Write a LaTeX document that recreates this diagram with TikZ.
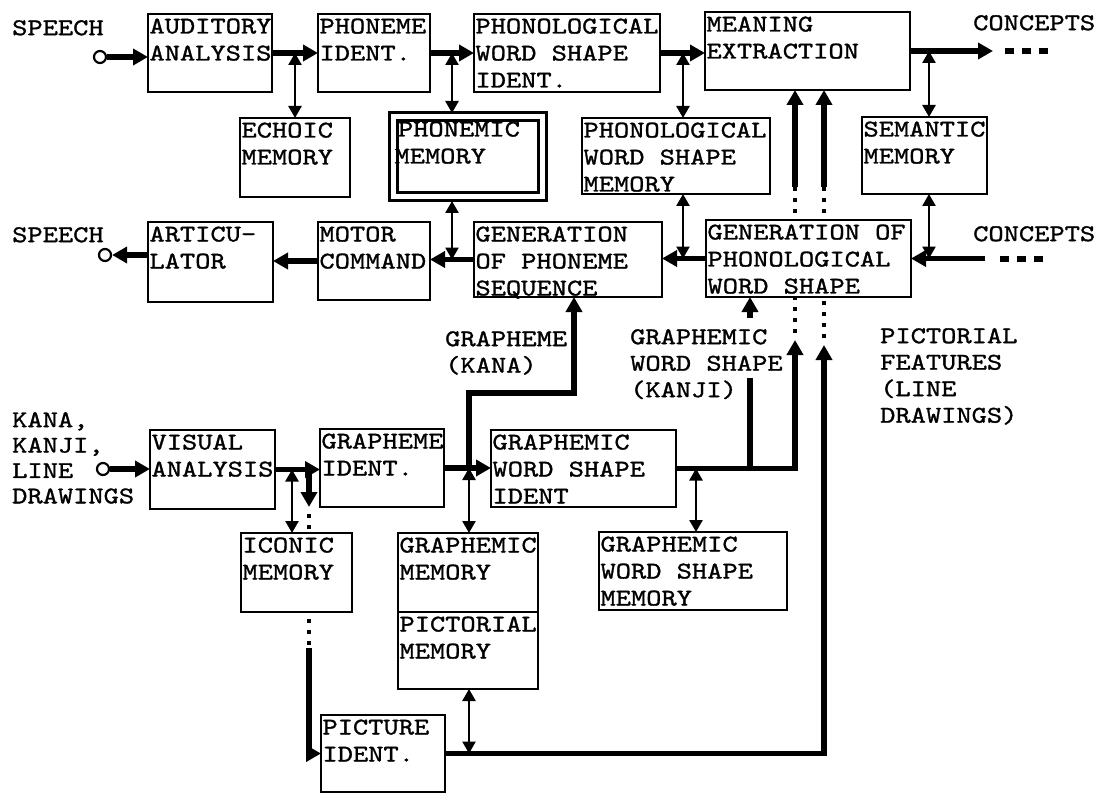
\documentclass[tikz,border=0pt]{standalone}
\usepackage{fontspec}
\usetikzlibrary{arrows.meta,calc}
\newfontfamily\typed[FakeStretch=1.21,FakeBold=1.2]{lmmono10-regular.otf}

\begin{document}
\begin{tikzpicture}[x=1pt, y=-1pt,
  blk/.style 2 args={draw, line width=2.5pt, inner sep=0pt, outer sep=0pt, anchor=north west,
    minimum width=#1, minimum height=#2, font=\typed\fontsize{24}{27}\selectfont,
    execute at begin node={\begin{minipage}[c][#2][t]{#1}\raggedright\leftskip=1.5pt\rule{0pt}{19.5pt}},
    execute at end node={\end{minipage}}},
  lab/.style={anchor=north west, inner sep=0pt, align=left, font=\typed\fontsize{24}{26.5}\selectfont},
  flow/.style={line width=5.5pt, -{Triangle[length=15pt,width=16pt]}},
  trunk/.style={line width=5.5pt},
  link/.style={line width=2.5pt, {Triangle[length=12pt,width=13pt]}-{Triangle[length=12pt,width=13pt]}},
  dotln/.style={line width=4.5pt, dash pattern=on 4pt off 7pt, dash phase=4pt},
  tail/.style={line width=6pt, dash pattern=on 9pt off 8pt},
  port/.style={circle, draw, line width=2.2pt, minimum size=12pt, inner sep=0pt, fill=white}]
\useasboundingbox (0,0) rectangle (1099,794);

% auditory side
\node[blk={124pt}{78pt}] (aud) at (148,14) {AUDITORY\\ANALYSIS};
\node[blk={112pt}{78pt}] (phi) at (318,14) {PHONEME\\IDENT.};
\node[blk={186pt}{78pt}] (pwsi) at (474,14) {PHONOLOGICAL\\WORD SHAPE\\IDENT.};
\node[blk={205pt}{78pt}] (mean) at (705,12) {MEANING\\EXTRACTION};
\node[blk={110pt}{79pt}] (echo) at (240,118) {ECHOIC\\MEMORY};
\node[blk={149pt}{80pt}, double, double distance=5pt, line width=3pt, outer sep=4pt] (phm) at (389,113) {\leftskip=5pt PHONEMIC\\MEMORY};
\node[blk={188pt}{76pt}] (pwsm) at (582,118) {PHONOLOGICAL\\WORD SHAPE\\MEMORY};
\node[blk={125pt}{77pt}] (sem) at (862,117) {SEMANTIC\\MEMORY};
\node[blk={125pt}{80pt}] (art) at (148,222) {ARTICU-\\LATOR};
\node[blk={112pt}{78pt}] (mot) at (318,222) {MOTOR\\COMMAND};
\node[blk={188pt}{75pt}] (gps) at (474,222) {GENERATION\\OF PHONEME\\SEQUENCE};
\node[blk={205pt}{77pt}] (gpws) at (706,220) {GENERATION OF\\PHONOLOGICAL\\WORD SHAPE};

% visual side
\node[blk={125pt}{79pt}] (vis) at (150,430) {VISUAL\\ANALYSIS};
\node[blk={124pt}{78pt}] (gi) at (320,429) {GRAPHEME\\IDENT.};
\node[blk={185pt}{77pt}] (gwsi) at (491,430) {GRAPHEMIC\\WORD SHAPE\\IDENT};
\node[blk={111pt}{79pt}] (ico) at (241,533) {ICONIC\\MEMORY};
\node[blk={140pt}{79pt}] (gm) at (398,533) {GRAPHEMIC\\MEMORY};
\node[blk={140pt}{77pt}] (pm) at (398,612) {PICTORIAL\\MEMORY};
\node[blk={188pt}{78pt}] (gwsm) at (599,532) {GRAPHEMIC\\WORD SHAPE\\MEMORY};
\node[blk={124pt}{77pt}] (pic) at (321,715) {PICTURE\\IDENT.};

% free texts
\node[lab] (lsin) at (12,20) {SPEECH};
\node[lab] (lsout) at (12,227) {SPEECH};
\node[lab] (lcout) at (973,15) {CONCEPTS};
\node[lab] (lcin) at (973,226) {CONCEPTS};
\node[lab, font=\typed\fontsize{24}{25.4}\selectfont] (lkin) at (12,412) {KANA,\\KANJI,\\LINE\\DRAWINGS};
\node[lab] (lkana) at (445,331) {GRAPHEME\\(KANA)};
\node[lab] (lkanji) at (630,329) {GRAPHEMIC\\WORD SHAPE\\(KANJI)};
\node[lab] (lpict) at (880,328) {PICTORIAL\\FEATURES\\(LINE\\DRAWINGS)};

\node[port] (sin) at (100,57) {};
\node[port] (sout) at (105,255) {};
\node[port] (kin) at (103,469) {};

% columns of the links and risers
\coordinate (xa) at (295,0);
\coordinate (xb) at (452,0);
\coordinate (xc) at (683,0);
\coordinate (xd) at (929,0);
\coordinate (cv) at (292,0);
\coordinate (ci) at (309,0);
\coordinate (cg) at (469,0);
\coordinate (cw) at (696,0);
\coordinate (ck) at (750,0);
\coordinate (cout) at (993,0);
\coordinate (cin) at (985,0);
\coordinate (ta) at (795,187);
\coordinate (tb) at (824,187);
\coordinate (ua) at (795,340);
\coordinate (ub) at (824,345);
\coordinate (ka) at (750,378);
\coordinate (kb) at (750,318);
\coordinate (kk) at (574,393);
\coordinate (ia) at (309,507);
\coordinate (ib) at (309,648);

% speech in
\draw[flow] (sin) -- (sin -| aud.west);
\draw[flow] (aud.east) -- (aud.east -| phi.west);
\draw[link] (xa |- aud.east) -- (xa |- echo.north);
\draw[flow] (phi.east) -- (phi.east -| pwsi.west);
\draw[link] (xb |- phi.east) -- (xb |- phm.north);
\draw[flow] (pwsi.east) -- (pwsi.east -| mean.west);
\draw[link] (xc |- pwsi.east) -- (xc |- pwsm.north);
\draw[flow] (mean.east) -- (mean.east -| cout);
\draw[link] (xd |- mean.east) -- (xd |- sem.north);
\draw[tail] ($(cout |- mean.east)+(12,0)$) -- ++(43,0);

% speech out
\draw[flow] (cin |- gpws.east) -- (gpws.east);
\draw[tail] ($(cin |- gpws.east)+(15,0)$) -- ++(46,0);
\draw[link] (xd |- sem.south) -- (xd |- gpws.east);
\draw[flow] (gpws.west) -- (gpws.west -| gps.east);
\draw[link] (xc |- pwsm.south) -- (xc |- gpws.west);
\draw[flow] (gps.west) -- (gps.west -| mot.east);
\draw[link] (xb |- phm.south) -- (xb |- gps.west);
\draw[flow] (mot.west) -- (mot.west -| art.east);
\draw[flow] (art.west |- sout) -- (sout);

% risers to meaning extraction
\draw[flow] (ta) -- (ta |- mean.south);
\draw[flow] (tb) -- (tb |- mean.south);
\draw[dotln] (ta |- gpws.north) -- (ta);
\draw[dotln] (tb |- gpws.north) -- (tb);
\draw[dotln] (ua) -- (ua |- gpws.south);
\draw[dotln] (ub) -- (ub |- gpws.south);

% reading
\draw[flow] (kin) -- (kin -| vis.west);
\draw[flow] (vis.east) -- (vis.east -| gi.west);
\draw[link] (cv |- vis.east) -- (cv |- ico.north);
\draw[flow] (ci |- vis.east) -- (ia);
\draw[dotln] (ia) -- (ci |- ico.north);
\draw[dotln] (ci |- ico.south) -- (ib);
\draw[flow] (ib) |- (pic.west);
\draw[flow] (gi.east) -- (gi.east -| gwsi.west);
\draw[link] (cg |- gi.east) -- (cg |- gm.north);
\draw[flow] (cg |- gi.east) |- (kk) -- (kk |- gps.south);
\draw[link] (cw |- gwsi.east) -- (cw |- gwsm.north);
\draw[flow] (gwsi.east) -| (ua);
\draw[trunk] (ck |- gwsi.east) -- (ka);
\draw[flow] (kb) -- (ck |- gpws.south);
\draw[flow] (pic.east) -| (ub);
\draw[link] (cg |- pm.south) -- (cg |- pic.east);
\end{tikzpicture}
\end{document}
